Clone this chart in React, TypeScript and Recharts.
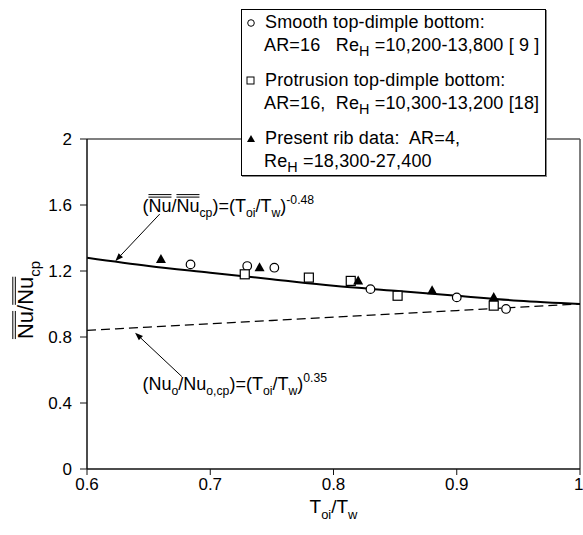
import React from 'react';
import {
  ComposedChart,
  Line,
  Scatter,
  XAxis,
  YAxis,
  ReferenceLine,
  ReferenceDot,
  Legend,
} from 'recharts';

const FONT = 'Arial, "Liberation Sans", sans-serif';

// correlation curves, sampled along T_oi/T_w
const curveX = [0.6, 0.65, 0.7, 0.75, 0.8, 0.85, 0.9, 0.95, 1.0];
const ribCurveY = [1.28, 1.23, 1.19, 1.15, 1.11, 1.08, 1.05, 1.02, 1.0];
const localCurveY = [0.84, 0.86, 0.88, 0.9, 0.92, 0.94, 0.96, 0.98, 1.0];

// smooth top-dimple bottom [9]
const smoothX = [0.684, 0.73, 0.752, 0.83, 0.9, 0.94];
const smoothY = [1.24, 1.23, 1.22, 1.09, 1.04, 0.97];

// protrusion top-dimple bottom [18]
const protrusionX = [0.728, 0.78, 0.814, 0.852, 0.93];
const protrusionY = [1.18, 1.16, 1.14, 1.05, 0.99];

// present rib data
const ribX = [0.66, 0.74, 0.82, 0.88, 0.93];
const ribY = [1.27, 1.22, 1.14, 1.08, 1.04];

const xTicks = [0.6, 0.7, 0.8, 0.9, 1];
const yTicks = [0, 0.4, 0.8, 1.2, 1.6, 2];

const toPoints = (xs: number[], ys: number[]) => xs.map((x, i) => ({ x, y: ys[i] }));

// Arial advance widths (em) for the glyphs that carry overlines
const W = { paren: 0.333, N: 0.722, u: 0.556, slash: 0.278 };

type Seg = { t: string; s?: 'sub' | 'sup' };

function richTspans(segs: Seg[], size: number) {
  let shift = 0;
  return segs.map((sg, i) => {
    const target = sg.s === 'sub' ? size * 0.3 : sg.s === 'sup' ? -size * 0.42 : 0;
    const dy = target - shift;
    shift = target;
    return (
      <tspan key={i} dy={dy} fontSize={sg.s ? size * 0.68 : size}>
        {sg.t}
      </tspan>
    );
  });
}

// double bar drawn over a word
function DoubleBar({ x1, x2, y }: { x1: number; x2: number; y: number }) {
  return (
    <g stroke="#000" strokeWidth={1}>
      <line x1={x1} x2={x2} y1={y} y2={y} />
      <line x1={x1} x2={x2} y1={y - 2.5} y2={y - 2.5} />
    </g>
  );
}

const circleShape = (p: any) => (
  <circle cx={p.cx} cy={p.cy} r={4.3} fill="#fff" stroke="#000" strokeWidth={1.2} />
);
const squareShape = (p: any) => (
  <rect x={p.cx - 4.5} y={p.cy - 4.5} width={9} height={9} fill="#fff" stroke="#000" strokeWidth={1.2} />
);
const triangleShape = (p: any) => (
  <polygon
    points={`${p.cx},${p.cy - 5.5} ${p.cx - 5},${p.cy + 3.5} ${p.cx + 5},${p.cy + 3.5}`}
    fill="#000"
  />
);

const Arrow = (p: any) => {
  const { x1, y1, x2, y2 } = p;
  const ang = Math.atan2(y2 - y1, x2 - x1);
  const len = 8;
  const half = 3;
  const bx = x2 - len * Math.cos(ang);
  const by = y2 - len * Math.sin(ang);
  const px = -Math.sin(ang) * half;
  const py = Math.cos(ang) * half;
  return (
    <g>
      <line x1={x1} y1={y1} x2={bx} y2={by} stroke="#000" strokeWidth={1} />
      <polygon points={`${x2},${y2} ${bx + px},${by + py} ${bx - px},${by - py}`} fill="#000" />
    </g>
  );
};

const ANNO = 18;

// (Nu/Nu_cp) = (T_oi/T_w)^-0.48, bars over both Nu
const RibLabel = (p: any) => {
  const F = ANNO;
  const x0 = p.cx;
  const y0 = p.cy;
  const a = x0 + W.paren * F;
  const b = a + (W.N + W.u) * F;
  const c = b + W.slash * F;
  const d = c + (W.N + W.u) * F;
  return (
    <g>
      <text x={x0} y={y0} fontFamily={FONT} fontSize={F} fill="#000">
        {richTspans(
          [
            { t: '(Nu/Nu' },
            { t: 'cp', s: 'sub' },
            { t: ')=(T' },
            { t: 'oi', s: 'sub' },
            { t: '/T' },
            { t: 'w', s: 'sub' },
            { t: ')' },
            { t: '-0.48', s: 'sup' },
          ],
          F
        )}
      </text>
      <DoubleBar x1={a} x2={b} y={y0 - 14.5} />
      <DoubleBar x1={c} x2={d} y={y0 - 14.5} />
    </g>
  );
};

const LocalLabel = (p: any) => (
  <text x={p.cx} y={p.cy} fontFamily={FONT} fontSize={ANNO} fill="#000">
    {richTspans(
      [
        { t: '(Nu' },
        { t: 'o', s: 'sub' },
        { t: '/Nu' },
        { t: 'o,cp', s: 'sub' },
        { t: ')=(T' },
        { t: 'oi', s: 'sub' },
        { t: '/T' },
        { t: 'w', s: 'sub' },
        { t: ')' },
        { t: '0.35', s: 'sup' },
      ],
      ANNO
    )}
  </text>
);

const XTitle = (p: any) => {
  const vb = p.viewBox;
  return (
    <text
      x={vb.x + vb.width / 2}
      y={vb.y + 44}
      textAnchor="middle"
      fontFamily={FONT}
      fontSize={19}
      fill="#000"
    >
      {richTspans([{ t: 'T' }, { t: 'oi', s: 'sub' }, { t: '/T' }, { t: 'w', s: 'sub' }], 19)}
    </text>
  );
};

const YTitle = (p: any) => {
  const vb = p.viewBox;
  const F = 22;
  const cx = vb.x - 2;
  const cy = vb.y + vb.height / 2 - 4;
  const total = (2 * (W.N + W.u) + W.slash) * F + 1.056 * F * 0.68;
  const x0 = -total / 2;
  const b = x0 + (W.N + W.u) * F;
  const c = b + W.slash * F;
  const d = c + (W.N + W.u) * F;
  const base = 0.36 * F;
  return (
    <g transform={`translate(${cx},${cy}) rotate(-90)`}>
      <text x={x0} y={base} fontFamily={FONT} fontSize={F} fill="#000">
        {richTspans([{ t: 'Nu/Nu' }, { t: 'cp', s: 'sub' }], F)}
      </text>
      <DoubleBar x1={x0} x2={b} y={base - 0.8 * F} />
      <DoubleBar x1={c} x2={d} y={base - 0.8 * F} />
    </g>
  );
};

const Marker = ({ kind }: { kind: string }) => (
  <svg width={12} height={12} style={{ verticalAlign: 'middle', marginRight: 8 }}>
    {kind === 'circle' && <circle cx={6} cy={6} r={3.3} fill="#fff" stroke="#000" strokeWidth={1} />}
    {kind === 'square' && <rect x={2} y={2} width={7} height={7} fill="#fff" stroke="#000" strokeWidth={1} />}
    {kind === 'triangle' && <polygon points="6,2 2,9 10,9" fill="#000" />}
  </svg>
);

const Re = () => (
  <span>
    Re<sub style={{ fontSize: '0.8em', verticalAlign: '-0.35em' }}>H</sub>
  </span>
);

const LegendBox = () => (
  <div
    style={{
      width: 305,
      height: 167,
      boxSizing: 'border-box',
      border: '1px solid #000',
      background: '#fff',
      fontFamily: FONT,
      fontSize: 18,
      letterSpacing: 0.15,
      lineHeight: '23px',
      color: '#000',
      padding: '1px 0 0 3px',
      textAlign: 'left',
      whiteSpace: 'nowrap',
      overflow: 'hidden',
      boxShadow: '1px 1px 0 #888',
    }}
  >
    <div>
      <Marker kind="circle" />
      Smooth top-dimple bottom:
    </div>
    <div style={{ paddingLeft: 19 }}>
      AR=16&nbsp;&nbsp; <Re /> =10,200-13,800 [ 9 ]
    </div>
    <div style={{ marginTop: 6 }}>
      <Marker kind="square" />
      Protrusion top-dimple bottom:
    </div>
    <div style={{ paddingLeft: 19 }}>
      AR=16,&nbsp; <Re /> =10,300-13,200 [18]
    </div>
    <div style={{ marginTop: 6 }}>
      <Marker kind="triangle" />
      Present rib data:&nbsp; AR=4,
    </div>
    <div style={{ paddingLeft: 19 }}>
      <Re /> =18,300-27,400
    </div>
  </div>
);

export default function App() {
  const ribCurve = toPoints(curveX, ribCurveY);
  const localCurve = toPoints(curveX, localCurveY);
  const tick = { fill: '#000', fontSize: 17, fontFamily: FONT };

  return (
    <div style={{ position: 'absolute', left: 0, top: 0, background: '#fff' }}>
      <ComposedChart
        width={583}
        height={535}
        margin={{ top: 139, right: 3, bottom: 26, left: 27 }}
      >
        <XAxis
          type="number"
          dataKey="x"
          domain={[0.6, 1]}
          ticks={xTicks}
          allowDataOverflow
          height={40}
          tickSize={6}
          tickMargin={3}
          tick={tick}
          axisLine={{ stroke: '#111', strokeWidth: 1.5 }}
          tickLine={{ stroke: '#111' }}
          label={{ content: XTitle }}
        />
        <YAxis
          type="number"
          dataKey="y"
          domain={[0, 2]}
          ticks={yTicks}
          allowDataOverflow
          width={60}
          tickSize={7}
          tickMargin={8}
          tick={tick}
          axisLine={{ stroke: '#111', strokeWidth: 1.5 }}
          tickLine={{ stroke: '#111' }}
          label={{ content: YTitle }}
        />
        <ReferenceLine y={2} stroke="#555" strokeWidth={1.5} />
        <ReferenceLine x={1} stroke="#555" strokeWidth={1.5} />
        <Line
          data={localCurve}
          dataKey="y"
          type="monotone"
          stroke="#000"
          strokeWidth={1.3}
          strokeDasharray="9 5"
          dot={false}
          activeDot={false}
          isAnimationActive={false}
        />
        <Line
          data={ribCurve}
          dataKey="y"
          type="monotone"
          stroke="#000"
          strokeWidth={2}
          dot={false}
          activeDot={false}
          isAnimationActive={false}
        />
        <Scatter data={toPoints(smoothX, smoothY)} shape={circleShape} isAnimationActive={false} />
        <Scatter data={toPoints(protrusionX, protrusionY)} shape={squareShape} isAnimationActive={false} />
        <Scatter data={toPoints(ribX, ribY)} shape={triangleShape} isAnimationActive={false} />
        <ReferenceLine
          segment={[
            { x: 0.659, y: 1.545 },
            { x: 0.623, y: 1.26 },
          ]}
          shape={Arrow}
        />
        <ReferenceLine
          segment={[
            { x: 0.677, y: 0.56 },
            { x: 0.639, y: 0.826 },
          ]}
          shape={Arrow}
        />
        <ReferenceDot x={0.645} y={1.56} r={1} shape={RibLabel} />
        <ReferenceDot x={0.645} y={0.48} r={1} shape={LocalLabel} />
        <Legend
          layout="horizontal"
          verticalAlign="middle"
          align="center"
          wrapperStyle={{ left: 241, top: 9, width: 305, height: 167 }}
          content={LegendBox}
        />
      </ComposedChart>
    </div>
  );
}
